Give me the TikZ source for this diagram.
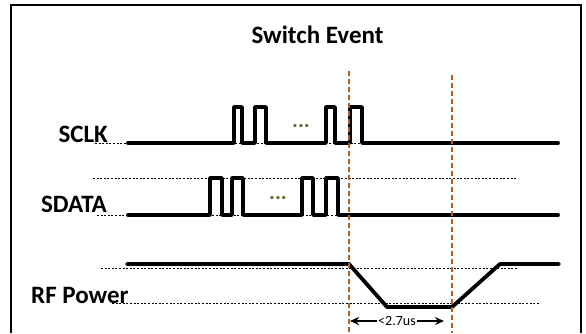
\documentclass[tikz,border=0pt]{standalone}
\usepackage{fontspec}
\setmainfont{Carlito}
\usepackage{xcolor}
\usetikzlibrary{arrows.meta}
\definecolor{markerbrown}{RGB}{186,96,30}
\definecolor{dotgreen}{RGB}{94,114,48}
\tikzstyle{signal} = [line width=3.8pt, line cap=round, line join=round]
\tikzstyle{guide} = [line width=1pt, dash pattern=on 2pt off 1.6pt]
\tikzstyle{marker} = [draw=markerbrown, line width=1.4pt, dash pattern=on 5pt off 3pt]
\tikzstyle{siglabel} = [inner sep=0pt, font=\bfseries\fontsize{25}{30}\selectfont]

\begin{document}
\begin{tikzpicture}[x=1pt,y=-1pt]
\useasboundingbox (0,0) rectangle (586,333);
% frame
\draw[line width=1.6pt] (11,333) -- (11,5) -- (581,5) -- (581,333);
\node[siglabel, anchor=base] (title) at (317.5,43) {Switch Event};

% signal names
\node[siglabel, anchor=base east] (sclk) at (108,142) {SCLK};
\node[siglabel, anchor=base east] (sdata) at (107,212) {SDATA};
\node[siglabel, anchor=base west] (rfpower) at (31,303) {RF Power};

% dotted levels
\draw[guide] (95,143) -- (370,143);
\draw[guide] (93,178) -- (517,178);
\draw[guide] (97,215) -- (345,215);
\draw[guide] (101,268) -- (517,268);
\draw[guide] (112,303) -- (540,303);

% SCLK
\draw[signal] (128,143) foreach \a/\b in {234/242,255/266,326/335,350/362}
  { -- (\a,143) -- (\a,107) -- (\b,107) -- (\b,143) } -- (558,143);
\node[text=dotgreen, inner sep=0pt, font=\bfseries\fontsize{22}{24}\selectfont] (sclkdots) at (301,126) {...};

% SDATA
\draw[signal] (128,215) foreach \a/\b in {210/222,232/243,302/313,326/338}
  { -- (\a,215) -- (\a,178) -- (\b,178) -- (\b,215) } -- (558,215);
\node[text=dotgreen, inner sep=0pt, font=\bfseries\fontsize{22}{24}\selectfont] (sdatadots) at (278,198) {...};

% RF power
\coordinate (fall) at (349,264);
\coordinate (off) at (387,307);
\coordinate (on) at (452,307);
\coordinate (rise) at (500,264);
\draw[signal] (127,264) -- (fall) -- (off) -- (on) -- (rise) -- (559,264);

% switch window
\draw[marker] (349,71) -- (349,333);
\draw[marker] (452,75) -- (452,333);
\coordinate (t0) at (350,321);
\coordinate (t1) at (444,321);
\draw[line width=1.6pt, {Stealth[length=9pt,width=8pt]}-{Stealth[length=9pt,width=8pt]}] (t0) -- node[fill=white, inner sep=1pt, font=\fontsize{14}{16}\selectfont] (window) {<2.7us} (t1);
\end{tikzpicture}
\end{document}
